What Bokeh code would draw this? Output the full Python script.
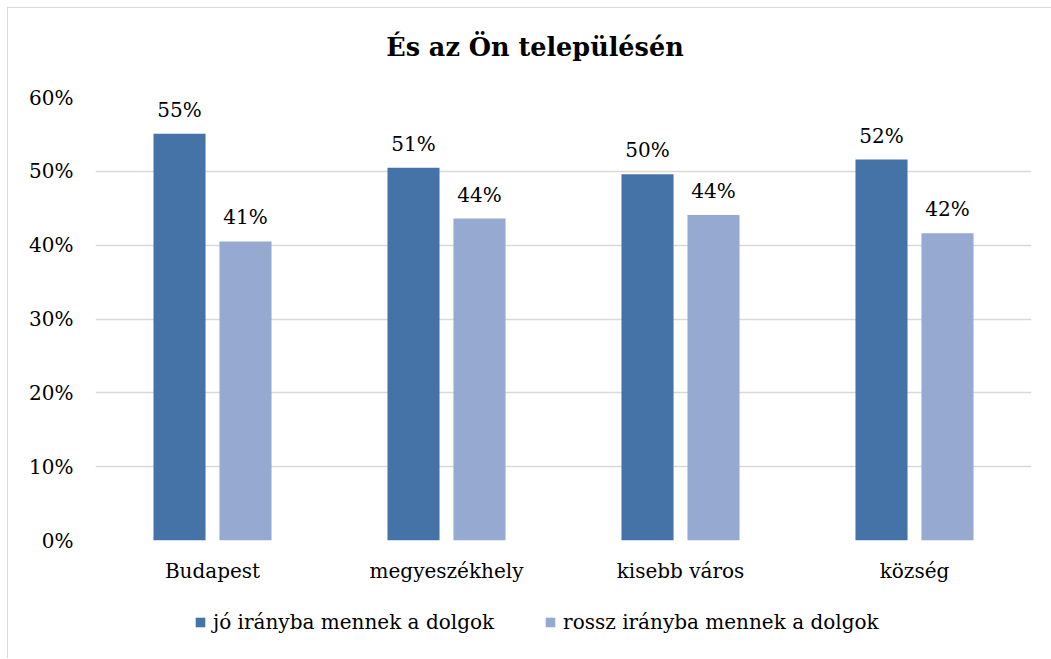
from bokeh.plotting import figure
from bokeh.layouts import column
from bokeh.models import (ColumnDataSource, FactorRange, NumeralTickFormatter, Legend,
                          LegendItem, FixedTicker, Range1d)
from bokeh.transform import dodge
from bokeh.core.properties import value
from bokeh.embed import file_html
from bokeh.resources import INLINE

title_text = "És az Ön településén"
categories = ["Budapest", "megyeszékhely", "kisebb város", "község"]
series_names = ["jó irányba mennek a dolgok", "rossz irányba mennek a dolgok"]
good = [0.551, 0.505, 0.496, 0.516]
bad = [0.405, 0.436, 0.441, 0.416]
good_labels = ["55%", "51%", "50%", "52%"]
bad_labels = ["41%", "44%", "44%", "42%"]
y_ticks = [0.0, 0.1, 0.2, 0.3, 0.4, 0.5, 0.6]

FONT = "DejaVu Serif"
DARK = "#4573A7"
LIGHT = "#95A9D1"
W = 1043

# title strip
tf = figure(width=W, height=69, x_range=(0, 1), y_range=(0, 1),
            output_backend="svg", toolbar_location=None, min_border=0,
            outline_line_color=None)
tf.axis.visible = False
tf.grid.visible = False
tf.text(x=[0.4695], y=[0.435], text=[title_text], text_align="center", text_baseline="middle",
        text_font=value(FONT), text_font_style="bold", text_font_size="25.5px",
        text_color="#000000")

src = ColumnDataSource(dict(cat=categories, good=good, bad=bad,
                            good_lbl=good_labels, bad_lbl=bad_labels))

p = figure(x_range=FactorRange(*categories, range_padding=0),
           y_range=Range1d(0, 0.6),
           width=W, height=521, output_backend="svg", toolbar_location=None,
           min_border_left=87, min_border_right=20, min_border_top=20, min_border_bottom=58,
           outline_line_color=None)

p.vbar(x=dodge("cat", -0.141, range=p.x_range), top="good", width=0.2225, source=src,
       fill_color=DARK, line_color=None)
p.vbar(x=dodge("cat", 0.141, range=p.x_range), top="bad", width=0.2225, source=src,
       fill_color=LIGHT, line_color=None)

p.text(x=dodge("cat", -0.141, range=p.x_range), y="good", text="good_lbl", source=src,
       text_align="center", text_baseline="bottom", y_offset=-12,
       text_font=value(FONT), text_font_size="20px", text_color="#000000")
p.text(x=dodge("cat", 0.141, range=p.x_range), y="bad", text="bad_lbl", source=src,
       text_align="center", text_baseline="bottom", y_offset=-12,
       text_font=value(FONT), text_font_size="20px", text_color="#000000")

p.yaxis.ticker = FixedTicker(ticks=y_ticks)
p.yaxis.formatter = NumeralTickFormatter(format="0%")
for ax in (p.xaxis[0], p.yaxis[0]):
    ax.axis_line_color = None
    ax.major_tick_line_color = None
    ax.minor_tick_line_color = None
    ax.major_tick_out = 0
    ax.major_tick_in = 0
    ax.major_label_text_font = FONT
    ax.major_label_text_font_size = "20px"
    ax.major_label_text_color = "#000000"
p.yaxis.major_label_standoff = 22
p.xaxis.major_label_standoff = 18

p.xgrid.grid_line_color = None
p.ygrid.grid_line_color = "#d9d9d9"
p.ygrid.grid_line_width = 1.5

# legend strip below the chart (swatch renderers sit outside the visible range)
lg = figure(width=W, height=60, x_range=(0, 1), y_range=(0, 1),
            output_backend="svg", toolbar_location=None, min_border=0,
            outline_line_color=None)
lg.axis.visible = False
lg.grid.visible = False
lr1 = lg.vbar(x=[-5], top=[-5], width=0.1, fill_color=DARK, line_color=None)
lr2 = lg.vbar(x=[-5], top=[-5], width=0.1, fill_color=LIGHT, line_color=None)
legend = Legend(items=[LegendItem(label=series_names[0], renderers=[lr1]),
                       LegendItem(label=series_names[1], renderers=[lr2])],
                orientation="horizontal", location=(99, 24),
                label_text_font=FONT, label_text_font_size="20px", label_text_color="#000000",
                glyph_width=12, glyph_height=12, spacing=50, label_standoff=7,
                border_line_color=None, background_fill_alpha=0, padding=0, margin=0)
lg.add_layout(legend, "center")

layout = column(tf, p, lg, spacing=0)
layout.styles = {"margin-top": "7px", "margin-left": "7px",
                 "border-top": "1px solid #d9d9d9", "border-left": "1px solid #d9d9d9"}

open("out.html", "w").write(file_html(layout, INLINE))
